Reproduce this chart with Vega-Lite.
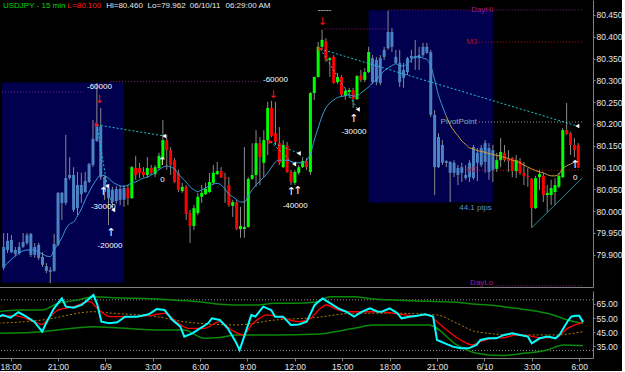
{
"$schema":"https://vega.github.io/schema/vega-lite/v6.json",
"background":"#000000",
"padding":{"left":-4,"top":0,"right":0,"bottom":0},
"spacing":4,
"config":{"view":{"stroke":null},"font":"Liberation Sans","axis":{"labelColor":"#e6e6e6","labelFont":"Liberation Sans","labelFontSize":8.5,"domainColor":"#808080","tickColor":"#808080","grid":false,"labelFlush":false,"labelOverlap":false}},
"datasets":{
"bars":[
{"t":"2011-06-08T17:15","o":79.870,"h":79.950,"l":79.865,"c":79.918,"ma":79.873},
{"t":"2011-06-08T17:30","o":79.911,"h":79.950,"l":79.904,"c":79.932,"ma":79.881},
{"t":"2011-06-08T17:45","o":79.934,"h":79.945,"l":79.904,"c":79.906,"ma":79.890},
{"t":"2011-06-08T18:00","o":79.902,"h":79.918,"l":79.897,"c":79.911,"ma":79.897},
{"t":"2011-06-08T18:15","o":79.904,"h":79.929,"l":79.900,"c":79.918,"ma":79.904},
{"t":"2011-06-08T18:30","o":79.918,"h":79.950,"l":79.916,"c":79.929,"ma":79.909},
{"t":"2011-06-08T18:45","o":79.927,"h":79.950,"l":79.923,"c":79.945,"ma":79.911},
{"t":"2011-06-08T19:00","o":79.948,"h":79.950,"l":79.895,"c":79.900,"ma":79.911},
{"t":"2011-06-08T19:15","o":79.900,"h":79.927,"l":79.893,"c":79.918,"ma":79.911},
{"t":"2011-06-08T19:30","o":79.923,"h":79.927,"l":79.888,"c":79.893,"ma":79.906},
{"t":"2011-06-08T19:45","o":79.895,"h":79.906,"l":79.872,"c":79.877,"ma":79.902},
{"t":"2011-06-08T20:00","o":79.874,"h":79.881,"l":79.858,"c":79.863,"ma":79.897},
{"t":"2011-06-08T20:15","o":79.861,"h":79.872,"l":79.835,"c":79.865,"ma":79.896},
{"t":"2011-06-08T20:30","o":79.863,"h":79.948,"l":79.861,"c":79.925,"ma":79.911},
{"t":"2011-06-08T20:45","o":79.923,"h":80.044,"l":79.920,"c":80.042,"ma":79.925},
{"t":"2011-06-08T21:00","o":80.042,"h":80.044,"l":79.980,"c":80.019,"ma":79.939},
{"t":"2011-06-08T21:15","o":80.019,"h":80.175,"l":80.014,"c":80.076,"ma":79.959},
{"t":"2011-06-08T21:30","o":80.076,"h":80.124,"l":80.072,"c":80.083,"ma":79.971},
{"t":"2011-06-08T21:45","o":80.083,"h":80.101,"l":79.998,"c":80.003,"ma":79.975},
{"t":"2011-06-08T22:00","o":80.007,"h":80.090,"l":79.991,"c":80.060,"ma":79.989},
{"t":"2011-06-08T22:15","o":80.060,"h":80.088,"l":80.019,"c":80.039,"ma":80.005},
{"t":"2011-06-08T22:30","o":80.044,"h":80.090,"l":80.042,"c":80.069,"ma":80.026},
{"t":"2011-06-08T22:45","o":80.067,"h":80.111,"l":80.065,"c":80.108,"ma":80.044},
{"t":"2011-06-08T23:00","o":80.106,"h":80.209,"l":80.101,"c":80.166,"ma":80.060},
{"t":"2011-06-08T23:15","o":80.161,"h":80.294,"l":80.159,"c":80.193,"ma":80.074},
{"t":"2011-06-08T23:30","o":80.195,"h":80.237,"l":80.072,"c":80.078,"ma":80.083},
{"t":"2011-06-08T23:45","o":80.078,"h":80.083,"l":80.026,"c":80.044,"ma":80.081},
{"t":"2011-06-09T00:00","o":80.030,"h":80.060,"l":79.968,"c":80.053,"ma":80.076},
{"t":"2011-06-09T00:15","o":80.049,"h":80.056,"l":80.014,"c":80.021,"ma":80.067},
{"t":"2011-06-09T00:30","o":80.023,"h":80.058,"l":80.017,"c":80.051,"ma":80.062},
{"t":"2011-06-09T00:45","o":80.051,"h":80.058,"l":80.014,"c":80.026,"ma":80.058},
{"t":"2011-06-09T01:00","o":80.026,"h":80.060,"l":80.010,"c":80.053,"ma":80.057},
{"t":"2011-06-09T01:15","o":80.053,"h":80.060,"l":80.014,"c":80.030,"ma":80.060},
{"t":"2011-06-09T01:30","o":80.030,"h":80.104,"l":80.028,"c":80.101,"ma":80.065},
{"t":"2011-06-09T01:45","o":80.099,"h":80.127,"l":80.072,"c":80.083,"ma":80.067},
{"t":"2011-06-09T02:00","o":80.099,"h":80.111,"l":80.076,"c":80.088,"ma":80.072},
{"t":"2011-06-09T02:15","o":80.090,"h":80.101,"l":80.078,"c":80.083,"ma":80.076},
{"t":"2011-06-09T02:30","o":80.083,"h":80.124,"l":80.076,"c":80.099,"ma":80.078},
{"t":"2011-06-09T02:45","o":80.099,"h":80.106,"l":80.083,"c":80.088,"ma":80.083},
{"t":"2011-06-09T03:00","o":80.085,"h":80.106,"l":80.078,"c":80.101,"ma":80.088},
{"t":"2011-06-09T03:15","o":80.099,"h":80.134,"l":80.095,"c":80.127,"ma":80.095},
{"t":"2011-06-09T03:30","o":80.122,"h":80.209,"l":80.117,"c":80.163,"ma":80.101},
{"t":"2011-06-09T03:45","o":80.163,"h":80.175,"l":80.095,"c":80.140,"ma":80.104},
{"t":"2011-06-09T04:00","o":80.140,"h":80.147,"l":80.083,"c":80.106,"ma":80.101},
{"t":"2011-06-09T04:15","o":80.117,"h":80.122,"l":80.065,"c":80.067,"ma":80.097},
{"t":"2011-06-09T04:30","o":80.088,"h":80.095,"l":80.044,"c":80.049,"ma":80.085},
{"t":"2011-06-09T04:45","o":80.046,"h":80.065,"l":80.042,"c":80.056,"ma":80.076},
{"t":"2011-06-09T05:00","o":80.056,"h":80.060,"l":79.980,"c":79.994,"ma":80.067},
{"t":"2011-06-09T05:15","o":79.996,"h":80.003,"l":79.927,"c":79.966,"ma":80.056},
{"t":"2011-06-09T05:30","o":79.966,"h":80.014,"l":79.957,"c":80.007,"ma":80.049},
{"t":"2011-06-09T05:45","o":79.996,"h":80.042,"l":79.991,"c":80.033,"ma":80.045},
{"t":"2011-06-09T06:00","o":80.033,"h":80.060,"l":80.019,"c":80.042,"ma":80.049},
{"t":"2011-06-09T06:15","o":80.039,"h":80.065,"l":80.037,"c":80.051,"ma":80.053},
{"t":"2011-06-09T06:30","o":80.044,"h":80.088,"l":80.042,"c":80.067,"ma":80.058},
{"t":"2011-06-09T06:45","o":80.065,"h":80.106,"l":80.062,"c":80.088,"ma":80.062},
{"t":"2011-06-09T07:00","o":80.085,"h":80.113,"l":80.083,"c":80.092,"ma":80.064},
{"t":"2011-06-09T07:15","o":80.092,"h":80.101,"l":80.076,"c":80.078,"ma":80.060},
{"t":"2011-06-09T07:30","o":80.078,"h":80.088,"l":80.019,"c":80.075,"ma":80.051},
{"t":"2011-06-09T07:45","o":80.060,"h":80.078,"l":80.010,"c":80.014,"ma":80.039},
{"t":"2011-06-09T08:00","o":80.012,"h":80.026,"l":79.987,"c":80.021,"ma":80.033},
{"t":"2011-06-09T08:15","o":80.021,"h":80.026,"l":79.957,"c":79.959,"ma":80.027},
{"t":"2011-06-09T08:30","o":79.959,"h":80.010,"l":79.939,"c":79.966,"ma":80.021},
{"t":"2011-06-09T08:45","o":79.959,"h":80.147,"l":79.939,"c":79.964,"ma":80.021},
{"t":"2011-06-09T09:00","o":79.964,"h":80.078,"l":79.962,"c":80.074,"ma":80.035},
{"t":"2011-06-09T09:15","o":80.074,"h":80.156,"l":80.072,"c":80.083,"ma":80.049},
{"t":"2011-06-09T09:30","o":80.083,"h":80.186,"l":80.056,"c":80.156,"ma":80.060},
{"t":"2011-06-09T09:45","o":80.156,"h":80.170,"l":80.060,"c":80.124,"ma":80.069},
{"t":"2011-06-09T10:00","o":80.111,"h":80.186,"l":80.078,"c":80.163,"ma":80.078},
{"t":"2011-06-09T10:15","o":80.163,"h":80.251,"l":80.129,"c":80.237,"ma":80.088},
{"t":"2011-06-09T10:30","o":80.237,"h":80.253,"l":80.170,"c":80.173,"ma":80.101},
{"t":"2011-06-09T10:45","o":80.179,"h":80.251,"l":80.152,"c":80.159,"ma":80.113},
{"t":"2011-06-09T11:00","o":80.156,"h":80.193,"l":80.106,"c":80.111,"ma":80.117},
{"t":"2011-06-09T11:15","o":80.101,"h":80.163,"l":80.099,"c":80.152,"ma":80.117},
{"t":"2011-06-09T11:30","o":80.150,"h":80.159,"l":80.088,"c":80.090,"ma":80.117},
{"t":"2011-06-09T11:45","o":80.090,"h":80.095,"l":80.060,"c":80.067,"ma":80.114},
{"t":"2011-06-09T12:00","o":80.065,"h":80.095,"l":80.060,"c":80.090,"ma":80.111},
{"t":"2011-06-09T12:15","o":80.088,"h":80.106,"l":80.083,"c":80.101,"ma":80.111},
{"t":"2011-06-09T12:30","o":80.101,"h":80.124,"l":80.099,"c":80.115,"ma":80.111},
{"t":"2011-06-09T12:45","o":80.115,"h":80.122,"l":80.095,"c":80.101,"ma":80.117},
{"t":"2011-06-09T13:00","o":80.090,"h":80.273,"l":80.083,"c":80.271,"ma":80.131},
{"t":"2011-06-09T13:15","o":80.271,"h":80.308,"l":80.255,"c":80.308,"ma":80.163},
{"t":"2011-06-09T13:30","o":80.308,"h":80.388,"l":80.306,"c":80.377,"ma":80.191},
{"t":"2011-06-09T13:45","o":80.377,"h":80.416,"l":80.370,"c":80.393,"ma":80.218},
{"t":"2011-06-09T14:00","o":80.390,"h":80.397,"l":80.342,"c":80.347,"ma":80.237},
{"t":"2011-06-09T14:15","o":80.347,"h":80.354,"l":80.308,"c":80.351,"ma":80.248},
{"t":"2011-06-09T14:30","o":80.354,"h":80.358,"l":80.292,"c":80.294,"ma":80.255},
{"t":"2011-06-09T14:45","o":80.296,"h":80.317,"l":80.292,"c":80.308,"ma":80.261},
{"t":"2011-06-09T15:00","o":80.308,"h":80.312,"l":80.262,"c":80.267,"ma":80.263},
{"t":"2011-06-09T15:15","o":80.264,"h":80.283,"l":80.255,"c":80.276,"ma":80.265},
{"t":"2011-06-09T15:30","o":80.273,"h":80.283,"l":80.260,"c":80.278,"ma":80.267},
{"t":"2011-06-09T15:45","o":80.278,"h":80.283,"l":80.237,"c":80.257,"ma":80.264},
{"t":"2011-06-09T16:00","o":80.257,"h":80.312,"l":80.255,"c":80.310,"ma":80.264},
{"t":"2011-06-09T16:15","o":80.312,"h":80.324,"l":80.296,"c":80.301,"ma":80.271},
{"t":"2011-06-09T16:30","o":80.301,"h":80.328,"l":80.296,"c":80.319,"ma":80.278},
{"t":"2011-06-09T16:45","o":80.319,"h":80.377,"l":80.317,"c":80.365,"ma":80.285},
{"t":"2011-06-09T17:00","o":80.351,"h":80.358,"l":80.292,"c":80.296,"ma":80.294},
{"t":"2011-06-09T17:15","o":80.296,"h":80.354,"l":80.289,"c":80.347,"ma":80.303},
{"t":"2011-06-09T17:30","o":80.294,"h":80.358,"l":80.289,"c":80.351,"ma":80.312},
{"t":"2011-06-09T17:45","o":80.354,"h":80.377,"l":80.347,"c":80.370,"ma":80.322},
{"t":"2011-06-09T18:00","o":80.374,"h":80.460,"l":80.370,"c":80.411,"ma":80.328},
{"t":"2011-06-09T18:15","o":80.411,"h":80.420,"l":80.365,"c":80.377,"ma":80.334},
{"t":"2011-06-09T18:30","o":80.354,"h":80.370,"l":80.338,"c":80.340,"ma":80.338},
{"t":"2011-06-09T18:45","o":80.340,"h":80.370,"l":80.285,"c":80.296,"ma":80.333},
{"t":"2011-06-09T19:00","o":80.306,"h":80.340,"l":80.283,"c":80.324,"ma":80.333},
{"t":"2011-06-09T19:15","o":80.319,"h":80.354,"l":80.312,"c":80.351,"ma":80.339},
{"t":"2011-06-09T19:30","o":80.351,"h":80.370,"l":80.340,"c":80.356,"ma":80.347},
{"t":"2011-06-09T19:45","o":80.356,"h":80.393,"l":80.324,"c":80.351,"ma":80.354},
{"t":"2011-06-09T20:00","o":80.351,"h":80.377,"l":80.324,"c":80.358,"ma":80.354},
{"t":"2011-06-09T20:15","o":80.358,"h":80.386,"l":80.354,"c":80.377,"ma":80.351},
{"t":"2011-06-09T20:30","o":80.377,"h":80.386,"l":80.361,"c":80.363,"ma":80.348},
{"t":"2011-06-09T20:45","o":80.365,"h":80.370,"l":80.216,"c":80.221,"ma":80.333},
{"t":"2011-06-09T21:00","o":80.221,"h":80.232,"l":80.037,"c":80.101,"ma":80.301},
{"t":"2011-06-09T21:15","o":80.101,"h":80.179,"l":80.099,"c":80.170,"ma":80.266},
{"t":"2011-06-09T21:30","o":80.152,"h":80.163,"l":80.106,"c":80.111,"ma":80.241},
{"t":"2011-06-09T21:45","o":80.111,"h":80.117,"l":80.101,"c":80.115,"ma":80.218},
{"t":"2011-06-09T22:00","o":80.113,"h":80.115,"l":80.021,"c":80.088,"ma":80.198},
{"t":"2011-06-09T22:15","o":80.088,"h":80.117,"l":80.078,"c":80.111,"ma":80.184},
{"t":"2011-06-09T22:30","o":80.099,"h":80.106,"l":80.060,"c":80.083,"ma":80.173},
{"t":"2011-06-09T22:45","o":80.088,"h":80.111,"l":80.067,"c":80.101,"ma":80.161},
{"t":"2011-06-09T23:00","o":80.083,"h":80.106,"l":80.072,"c":80.076,"ma":80.153},
{"t":"2011-06-09T23:15","o":80.078,"h":80.117,"l":80.067,"c":80.111,"ma":80.145},
{"t":"2011-06-09T23:30","o":80.076,"h":80.152,"l":80.072,"c":80.147,"ma":80.143},
{"t":"2011-06-09T23:45","o":80.134,"h":80.145,"l":80.069,"c":80.111,"ma":80.139},
{"t":"2011-06-10T00:00","o":80.106,"h":80.152,"l":80.101,"c":80.145,"ma":80.137},
{"t":"2011-06-10T00:15","o":80.156,"h":80.163,"l":80.088,"c":80.113,"ma":80.135},
{"t":"2011-06-10T00:30","o":80.145,"h":80.156,"l":80.072,"c":80.090,"ma":80.132},
{"t":"2011-06-10T00:45","o":80.140,"h":80.152,"l":80.067,"c":80.095,"ma":80.130},
{"t":"2011-06-10T01:00","o":80.097,"h":80.134,"l":80.090,"c":80.117,"ma":80.128},
{"t":"2011-06-10T01:15","o":80.117,"h":80.168,"l":80.101,"c":80.136,"ma":80.126},
{"t":"2011-06-10T01:30","o":80.134,"h":80.152,"l":80.113,"c":80.117,"ma":80.123},
{"t":"2011-06-10T01:45","o":80.120,"h":80.140,"l":80.090,"c":80.115,"ma":80.121},
{"t":"2011-06-10T02:00","o":80.122,"h":80.124,"l":80.078,"c":80.092,"ma":80.117},
{"t":"2011-06-10T02:15","o":80.092,"h":80.129,"l":80.076,"c":80.117,"ma":80.115},
{"t":"2011-06-10T02:30","o":80.115,"h":80.122,"l":80.083,"c":80.088,"ma":80.111},
{"t":"2011-06-10T02:45","o":80.088,"h":80.113,"l":80.060,"c":80.081,"ma":80.106},
{"t":"2011-06-10T03:00","o":80.081,"h":80.099,"l":80.056,"c":80.078,"ma":80.101},
{"t":"2011-06-10T03:15","o":80.074,"h":80.076,"l":79.962,"c":80.007,"ma":80.097},
{"t":"2011-06-10T03:30","o":80.007,"h":80.081,"l":80.005,"c":80.076,"ma":80.093},
{"t":"2011-06-10T03:45","o":80.078,"h":80.095,"l":80.049,"c":80.085,"ma":80.090},
{"t":"2011-06-10T04:00","o":80.081,"h":80.088,"l":80.021,"c":80.037,"ma":80.088},
{"t":"2011-06-10T04:15","o":80.037,"h":80.060,"l":79.998,"c":80.042,"ma":80.084},
{"t":"2011-06-10T04:30","o":80.037,"h":80.072,"l":80.014,"c":80.053,"ma":80.081},
{"t":"2011-06-10T04:45","o":80.044,"h":80.076,"l":80.014,"c":80.060,"ma":80.081},
{"t":"2011-06-10T05:00","o":80.056,"h":80.088,"l":80.053,"c":80.081,"ma":80.085},
{"t":"2011-06-10T05:15","o":80.078,"h":80.191,"l":80.076,"c":80.186,"ma":80.097},
{"t":"2011-06-10T05:30","o":80.186,"h":80.248,"l":80.175,"c":80.177,"ma":80.104},
{"t":"2011-06-10T05:45","o":80.179,"h":80.182,"l":80.129,"c":80.152,"ma":80.108},
{"t":"2011-06-10T06:00","o":80.152,"h":80.168,"l":80.124,"c":80.140,"ma":80.112},
{"t":"2011-06-10T06:15","o":80.152,"h":80.156,"l":80.099,"c":80.100,"ma":80.114}
],
"boxes":[
{"t1":"2011-06-08T17:08:30","t2":"2011-06-09T01:00","lo":79.836,"hi":80.295},
{"t1":"2011-06-09T16:45","t2":"2011-06-10T00:45","lo":80.020,"hi":80.461}
],
"levels":[
{"t1":"2011-06-08T17:09","t2":"2011-06-08T22:24","p":80.2734,"kind":"pos"},
{"t1":"2011-06-09T00:06","t2":"2011-06-09T09:48","p":80.2973,"kind":"pos"},
{"t1":"2011-06-09T13:54","t2":"2011-06-09T17:50","p":80.418,"kind":"pos"},
{"t1":"2011-06-09T18:01","t2":"2011-06-09T23:17","p":80.4615,"kind":"dayhl"},
{"t1":"2011-06-10T00:48","t2":"2011-06-10T06:30","p":80.4615,"kind":"dayhl"},
{"t1":"2011-06-09T23:51","t2":"2011-06-10T06:30","p":80.388,"kind":"mlvl"},
{"t1":"2011-06-09T23:51","t2":"2011-06-10T06:30","p":80.2045,"kind":"pivot"},
{"t1":"2011-06-09T23:51","t2":"2011-06-10T06:30","p":80.094,"kind":"mlvl"},
{"t1":"2011-06-10T00:48","t2":"2011-06-10T06:30","p":79.829,"kind":"dayhl"}
],
"trades":[
{"t1":"2011-06-08T23:15","p1":80.198,"t2":"2011-06-09T03:35","p2":80.1725},
{"t1":"2011-06-08T23:15","p1":80.198,"t2":"2011-06-08T23:55","p2":80.0578},
{"t1":"2011-06-08T23:55","p1":80.0578,"t2":"2011-06-09T00:18","p2":80.0027},
{"t1":"2011-06-09T10:26","p1":80.159,"t2":"2011-06-09T12:15","p2":80.1328},
{"t1":"2011-06-09T10:26","p1":80.159,"t2":"2011-06-09T11:57","p2":80.108},
{"t1":"2011-06-09T13:39","p1":80.372,"t2":"2011-06-10T06:11","p2":80.1954},
{"t1":"2011-06-09T13:39","p1":80.372,"t2":"2011-06-09T16:03","p2":80.2337}
],
"trend":[
{"t1":"2011-06-10T03:15","p1":79.962,"t2":"2011-06-10T06:30","p2":80.076}
],
"notes":[
{"t":"2011-06-08T17:12","p":80.4706,"text":"USDJPY - 15 min","kind":"sym"},
{"t":"2011-06-08T21:22","p":80.4706,"text":"L=80.100","kind":"last"},
{"t":"2011-06-08T23:51","p":80.4706,"text":"Hi=80.460","kind":"info"},
{"t":"2011-06-09T02:31","p":80.4706,"text":"Lo=79.962","kind":"info"},
{"t":"2011-06-09T05:14","p":80.4706,"text":"06/10/11","kind":"info"},
{"t":"2011-06-09T07:32","p":80.4706,"text":"06:29:00 AM","kind":"info"},
{"t":"2011-06-09T23:21","p":80.4615,"text":"DayHi","kind":"dayhl"},
{"t":"2011-06-09T23:02","p":80.388,"text":"M3","kind":"mlvl"},
{"t":"2011-06-09T21:23","p":80.2045,"text":"PivotPoint","kind":"pivot"},
{"t":"2011-06-09T23:02","p":80.094,"text":"M2","kind":"mlvl"},
{"t":"2011-06-09T23:17","p":79.836,"text":"DayLo","kind":"dayhl"},
{"t":"2011-06-09T22:35","p":80.0073,"text":"44.1 pips","kind":"pips"}
],
"pl":[
{"t":"2011-06-08T23:25","p":80.285,"text":"-60000"},
{"t":"2011-06-08T23:40","p":80.010,"text":"-30000"},
{"t":"2011-06-09T00:06","p":79.919,"text":"-20000"},
{"t":"2011-06-09T03:28","p":80.072,"text":"0"},
{"t":"2011-06-09T10:45","p":80.301,"text":"-60000"},
{"t":"2011-06-09T12:01","p":80.013,"text":"-40000"},
{"t":"2011-06-09T15:48","p":80.182,"text":"-30000"},
{"t":"2011-06-09T13:54","p":80.4615,"text":"-----"},
{"t":"2011-06-10T06:03","p":80.076,"text":"0"}
],
"marks":[
{"t":"2011-06-08T23:40","p":80.043,"kind":"up"},
{"t":"2011-06-09T00:10","p":79.949,"kind":"up"},
{"t":"2011-06-09T03:28","p":80.113,"kind":"up"},
{"t":"2011-06-09T11:46","p":80.044,"kind":"up"},
{"t":"2011-06-09T12:12","p":80.047,"kind":"up"},
{"t":"2011-06-09T15:48","p":80.2115,"kind":"up"},
{"t":"2011-06-10T06:03","p":80.106,"kind":"up"},
{"t":"2011-06-08T23:25","p":80.255,"kind":"down"},
{"t":"2011-06-09T10:37","p":80.2665,"kind":"down"},
{"t":"2011-06-09T13:47","p":80.434,"kind":"down"},
{"t":"2011-06-09T03:35","p":80.1725,"kind":"exit"},
{"t":"2011-06-08T23:55","p":80.0578,"kind":"exit"},
{"t":"2011-06-09T00:18","p":80.0027,"kind":"exit"},
{"t":"2011-06-09T12:15","p":80.1328,"kind":"exit"},
{"t":"2011-06-09T11:57","p":80.108,"kind":"exit"},
{"t":"2011-06-09T16:03","p":80.2337,"kind":"exit"},
{"t":"2011-06-10T06:11","p":80.1954,"kind":"exit"},
{"t":"2011-06-08T23:15","p":80.198,"kind":"entry"},
{"t":"2011-06-09T10:26","p":80.159,"kind":"entry"},
{"t":"2011-06-09T13:39","p":80.372,"kind":"entry"}
],
"lastprice":[{"p":80.100}],
"lastosc":[{"v":52.12}],
"osclevels":[{"v":68},{"v":32}],
"osc":[
{"s":"rsi","t":"2011-06-08T17:15","v":56.0},{"s":"rsi","t":"2011-06-08T17:30","v":57.2},{"s":"rsi","t":"2011-06-08T18:00","v":55.3},{"s":"rsi","t":"2011-06-08T18:30","v":59.1},{"s":"rsi","t":"2011-06-08T19:00","v":56.0},{"s":"rsi","t":"2011-06-08T19:30","v":52.4},{"s":"rsi","t":"2011-06-08T20:00","v":45.3},{"s":"rsi","t":"2011-06-08T20:15","v":51.3},{"s":"rsi","t":"2011-06-08T20:45","v":61.9},{"s":"rsi","t":"2011-06-08T21:15","v":69.0},{"s":"rsi","t":"2011-06-08T21:30","v":63.1},{"s":"rsi","t":"2011-06-08T22:00","v":62.4},{"s":"rsi","t":"2011-06-08T22:30","v":64.3},{"s":"rsi","t":"2011-06-08T23:00","v":69.0},{"s":"rsi","t":"2011-06-08T23:15","v":71.4},{"s":"rsi","t":"2011-06-08T23:30","v":64.3},{"s":"rsi","t":"2011-06-08T23:45","v":52.4},{"s":"rsi","t":"2011-06-09T00:15","v":51.3},{"s":"rsi","t":"2011-06-09T00:45","v":52.0},{"s":"rsi","t":"2011-06-09T01:15","v":56.0},{"s":"rsi","t":"2011-06-09T02:00","v":56.0},{"s":"rsi","t":"2011-06-09T02:45","v":57.7},{"s":"rsi","t":"2011-06-09T03:15","v":61.4},{"s":"rsi","t":"2011-06-09T03:45","v":60.7},{"s":"rsi","t":"2011-06-09T04:15","v":53.6},{"s":"rsi","t":"2011-06-09T04:45","v":48.9},{"s":"rsi","t":"2011-06-09T05:00","v":41.8},{"s":"rsi","t":"2011-06-09T05:30","v":44.1},{"s":"rsi","t":"2011-06-09T06:00","v":47.7},{"s":"rsi","t":"2011-06-09T06:30","v":51.3},{"s":"rsi","t":"2011-06-09T06:45","v":54.8},{"s":"rsi","t":"2011-06-09T07:15","v":53.6},{"s":"rsi","t":"2011-06-09T07:45","v":47.7},{"s":"rsi","t":"2011-06-09T08:15","v":38.2},{"s":"rsi","t":"2011-06-09T08:30","v":32.3},{"s":"rsi","t":"2011-06-09T08:45","v":40.6},{"s":"rsi","t":"2011-06-09T09:15","v":57.2},{"s":"rsi","t":"2011-06-09T09:30","v":56.0},{"s":"rsi","t":"2011-06-09T10:00","v":63.1},{"s":"rsi","t":"2011-06-09T10:30","v":60.7},{"s":"rsi","t":"2011-06-09T10:45","v":56.0},{"s":"rsi","t":"2011-06-09T11:15","v":56.0},{"s":"rsi","t":"2011-06-09T11:45","v":50.1},{"s":"rsi","t":"2011-06-09T12:15","v":50.5},{"s":"rsi","t":"2011-06-09T12:45","v":52.4},{"s":"rsi","t":"2011-06-09T13:15","v":64.3},{"s":"rsi","t":"2011-06-09T13:45","v":69.0},{"s":"rsi","t":"2011-06-09T14:15","v":65.5},{"s":"rsi","t":"2011-06-09T14:45","v":61.9},{"s":"rsi","t":"2011-06-09T15:15","v":59.5},{"s":"rsi","t":"2011-06-09T15:45","v":56.0},{"s":"rsi","t":"2011-06-09T16:15","v":59.5},{"s":"rsi","t":"2011-06-09T16:45","v":61.9},{"s":"rsi","t":"2011-06-09T17:15","v":59.5},{"s":"rsi","t":"2011-06-09T17:30","v":59.5},{"s":"rsi","t":"2011-06-09T18:00","v":61.9},{"s":"rsi","t":"2011-06-09T18:30","v":58.4},{"s":"rsi","t":"2011-06-09T18:45","v":54.8},{"s":"rsi","t":"2011-06-09T19:15","v":56.0},{"s":"rsi","t":"2011-06-09T19:45","v":56.7},{"s":"rsi","t":"2011-06-09T20:15","v":57.7},{"s":"rsi","t":"2011-06-09T20:45","v":56.0},{"s":"rsi","t":"2011-06-09T21:00","v":39.4},{"s":"rsi","t":"2011-06-09T21:30","v":37.0},{"s":"rsi","t":"2011-06-09T22:00","v":34.7},{"s":"rsi","t":"2011-06-09T22:30","v":33.5},{"s":"rsi","t":"2011-06-09T23:00","v":33.5},{"s":"rsi","t":"2011-06-09T23:30","v":35.9},{"s":"rsi","t":"2011-06-09T23:45","v":39.4},{"s":"rsi","t":"2011-06-10T00:15","v":40.6},{"s":"rsi","t":"2011-06-10T00:45","v":40.6},{"s":"rsi","t":"2011-06-10T01:15","v":43.0},{"s":"rsi","t":"2011-06-10T01:45","v":44.1},{"s":"rsi","t":"2011-06-10T02:15","v":43.0},{"s":"rsi","t":"2011-06-10T02:45","v":41.8},{"s":"rsi","t":"2011-06-10T03:00","v":37.0},{"s":"rsi","t":"2011-06-10T03:30","v":40.6},{"s":"rsi","t":"2011-06-10T04:00","v":41.8},{"s":"rsi","t":"2011-06-10T04:30","v":40.6},{"s":"rsi","t":"2011-06-10T04:45","v":43.0},{"s":"rsi","t":"2011-06-10T05:15","v":52.4},{"s":"rsi","t":"2011-06-10T05:30","v":56.0},{"s":"rsi","t":"2011-06-10T05:45","v":56.7},{"s":"rsi","t":"2011-06-10T06:00","v":56.7},{"s":"rsi","t":"2011-06-10T06:15","v":52.12},
{"s":"sig","t":"2011-06-08T17:15","v":56.0},{"s":"sig","t":"2011-06-08T18:15","v":56.7},{"s":"sig","t":"2011-06-08T19:30","v":52.4},{"s":"sig","t":"2011-06-08T20:00","v":50.5},{"s":"sig","t":"2011-06-08T20:30","v":56.0},{"s":"sig","t":"2011-06-08T21:00","v":60.7},{"s":"sig","t":"2011-06-08T22:00","v":63.1},{"s":"sig","t":"2011-06-08T23:00","v":66.7},{"s":"sig","t":"2011-06-08T23:30","v":61.9},{"s":"sig","t":"2011-06-09T00:15","v":56.0},{"s":"sig","t":"2011-06-09T01:30","v":56.0},{"s":"sig","t":"2011-06-09T02:45","v":56.7},{"s":"sig","t":"2011-06-09T03:45","v":58.4},{"s":"sig","t":"2011-06-09T04:30","v":52.4},{"s":"sig","t":"2011-06-09T05:15","v":47.7},{"s":"sig","t":"2011-06-09T06:15","v":47.7},{"s":"sig","t":"2011-06-09T07:15","v":52.4},{"s":"sig","t":"2011-06-09T08:00","v":46.5},{"s":"sig","t":"2011-06-09T08:45","v":43.0},{"s":"sig","t":"2011-06-09T09:15","v":50.1},{"s":"sig","t":"2011-06-09T09:45","v":54.8},{"s":"sig","t":"2011-06-09T10:15","v":57.2},{"s":"sig","t":"2011-06-09T11:15","v":54.8},{"s":"sig","t":"2011-06-09T12:15","v":52.4},{"s":"sig","t":"2011-06-09T13:00","v":54.8},{"s":"sig","t":"2011-06-09T13:30","v":60.7},{"s":"sig","t":"2011-06-09T14:00","v":64.3},{"s":"sig","t":"2011-06-09T14:45","v":60.7},{"s":"sig","t":"2011-06-09T15:30","v":59.5},{"s":"sig","t":"2011-06-09T16:15","v":59.5},{"s":"sig","t":"2011-06-09T17:15","v":59.5},{"s":"sig","t":"2011-06-09T18:15","v":58.4},{"s":"sig","t":"2011-06-09T19:30","v":56.7},{"s":"sig","t":"2011-06-09T20:30","v":57.2},{"s":"sig","t":"2011-06-09T21:00","v":52.4},{"s":"sig","t":"2011-06-09T21:45","v":45.3},{"s":"sig","t":"2011-06-09T22:30","v":39.4},{"s":"sig","t":"2011-06-09T23:15","v":35.9},{"s":"sig","t":"2011-06-09T23:45","v":38.2},{"s":"sig","t":"2011-06-10T00:30","v":40.6},{"s":"sig","t":"2011-06-10T01:15","v":41.1},{"s":"sig","t":"2011-06-10T02:00","v":43.0},{"s":"sig","t":"2011-06-10T02:45","v":42.5},{"s":"sig","t":"2011-06-10T03:30","v":41.1},{"s":"sig","t":"2011-06-10T04:30","v":41.1},{"s":"sig","t":"2011-06-10T05:15","v":47.7},{"s":"sig","t":"2011-06-10T06:15","v":52.0},
{"s":"up","t":"2011-06-08T17:15","v":59.5},{"s":"up","t":"2011-06-08T18:30","v":60.7},{"s":"up","t":"2011-06-08T20:00","v":60.7},{"s":"up","t":"2011-06-08T21:00","v":65.5},{"s":"up","t":"2011-06-08T22:15","v":67.8},{"s":"up","t":"2011-06-08T23:15","v":70.2},{"s":"up","t":"2011-06-09T00:30","v":69.5},{"s":"up","t":"2011-06-09T02:00","v":69.0},{"s":"up","t":"2011-06-09T03:15","v":68.6},{"s":"up","t":"2011-06-09T04:15","v":67.8},{"s":"up","t":"2011-06-09T05:45","v":66.7},{"s":"up","t":"2011-06-09T07:15","v":64.8},{"s":"up","t":"2011-06-09T08:15","v":64.3},{"s":"up","t":"2011-06-09T09:30","v":64.3},{"s":"up","t":"2011-06-09T10:45","v":65.5},{"s":"up","t":"2011-06-09T12:00","v":65.5},{"s":"up","t":"2011-06-09T13:15","v":66.2},{"s":"up","t":"2011-06-09T14:15","v":70.2},{"s":"up","t":"2011-06-09T15:45","v":70.2},{"s":"up","t":"2011-06-09T17:00","v":68.6},{"s":"up","t":"2011-06-09T18:15","v":67.8},{"s":"up","t":"2011-06-09T19:45","v":67.1},{"s":"up","t":"2011-06-09T21:00","v":66.7},{"s":"up","t":"2011-06-09T22:15","v":66.2},{"s":"up","t":"2011-06-09T23:30","v":64.8},{"s":"up","t":"2011-06-10T00:45","v":63.8},{"s":"up","t":"2011-06-10T02:00","v":61.9},{"s":"up","t":"2011-06-10T03:15","v":60.0},{"s":"up","t":"2011-06-10T04:30","v":56.7},{"s":"up","t":"2011-06-10T05:15","v":53.6},{"s":"up","t":"2011-06-10T06:15","v":51.3},
{"s":"lo","t":"2011-06-08T17:15","v":44.1},{"s":"lo","t":"2011-06-08T20:00","v":45.3},{"s":"lo","t":"2011-06-08T23:15","v":48.9},{"s":"lo","t":"2011-06-09T03:15","v":46.5},{"s":"lo","t":"2011-06-09T05:00","v":46.5},{"s":"lo","t":"2011-06-09T06:15","v":40.6},{"s":"lo","t":"2011-06-09T07:15","v":41.1},{"s":"lo","t":"2011-06-09T08:15","v":43.0},{"s":"lo","t":"2011-06-09T10:45","v":43.0},{"s":"lo","t":"2011-06-09T13:15","v":43.4},{"s":"lo","t":"2011-06-09T15:45","v":47.7},{"s":"lo","t":"2011-06-09T17:00","v":50.1},{"s":"lo","t":"2011-06-09T20:30","v":50.1},{"s":"lo","t":"2011-06-09T22:15","v":35.9},{"s":"lo","t":"2011-06-09T23:30","v":29.9},{"s":"lo","t":"2011-06-10T01:00","v":28.3},{"s":"lo","t":"2011-06-10T02:30","v":29.9},{"s":"lo","t":"2011-06-10T04:00","v":32.3},{"s":"lo","t":"2011-06-10T05:00","v":35.9},{"s":"lo","t":"2011-06-10T06:15","v":35.4},
{"s":"mid","t":"2011-06-08T17:15","v":51.3},{"s":"mid","t":"2011-06-08T20:00","v":53.6},{"s":"mid","t":"2011-06-08T23:15","v":59.5},{"s":"mid","t":"2011-06-09T00:30","v":58.4},{"s":"mid","t":"2011-06-09T03:15","v":56.0},{"s":"mid","t":"2011-06-09T05:00","v":52.4},{"s":"mid","t":"2011-06-09T08:15","v":50.1},{"s":"mid","t":"2011-06-09T10:45","v":53.6},{"s":"mid","t":"2011-06-09T13:15","v":55.3},{"s":"mid","t":"2011-06-09T15:45","v":58.4},{"s":"mid","t":"2011-06-09T18:15","v":58.4},{"s":"mid","t":"2011-06-09T21:00","v":57.2},{"s":"mid","t":"2011-06-09T22:15","v":51.3},{"s":"mid","t":"2011-06-09T23:30","v":45.3},{"s":"mid","t":"2011-06-10T02:00","v":43.0},{"s":"mid","t":"2011-06-10T04:30","v":43.0},{"s":"mid","t":"2011-06-10T06:15","v":45.3}
]
},
"vconcat":[
{
"width":596,"height":287,
"resolve":{"scale":{"color":"independent"}},
"encoding":{
 "x":{"field":"t","type":"temporal","scale":{"domain":[{"year":2011,"month":6,"date":8,"hours":17,"minutes":8,"seconds":30},{"year":2011,"month":6,"date":10,"hours":6,"minutes":52,"seconds":30}]},"axis":{"labels":false,"ticks":false,"domain":true,"title":null}},
 "y":{"type":"quantitative","scale":{"domain":[79.8261,80.4844],"nice":false,"zero":false},"axis":{"orient":"right","values":[79.9,79.95,80,80.05,80.1,80.15,80.2,80.25,80.3,80.35,80.4,80.45],"format":".3f","tickSize":2,"labelPadding":1,"title":null}}
},
"layer":[
{"data":{"name":"boxes"},"mark":{"type":"rect","color":"#00004e","clip":true},"encoding":{"x":{"field":"t1","type":"temporal"},"x2":{"field":"t2"},"y":{"field":"lo","type":"quantitative"},"y2":{"field":"hi"}}},
{"data":{"name":"levels"},"mark":{"type":"rule","strokeDash":[1,2],"strokeWidth":1,"clip":true},"encoding":{"x":{"field":"t1","type":"temporal"},"x2":{"field":"t2"},"y":{"field":"p","type":"quantitative"},"color":{"field":"kind","type":"nominal","scale":{"domain":["pos","dayhl","mlvl","pivot"],"range":["#8a1a8a","#8a1a8a","#b01010","#9a9a9a"]},"legend":null}}},
{"data":{"name":"trend"},"mark":{"type":"rule","color":"#1f8f8f","strokeWidth":1,"clip":true},"encoding":{"x":{"field":"t1","type":"temporal"},"x2":{"field":"t2"},"y":{"field":"p1","type":"quantitative"},"y2":{"field":"p2"}}},
{"data":{"name":"bars"},"mark":{"type":"rule","color":"#8a8a8a","strokeWidth":1,"clip":true},"encoding":{"y":{"field":"l","type":"quantitative"},"y2":{"field":"h"}}},
{"data":{"name":"bars"},"mark":{"type":"bar","width":3,"clip":true},"encoding":{"y":{"field":"o","type":"quantitative"},"y2":{"field":"c"},"color":{"condition":[{"test":"time(datum.t) <= time(datetime(2011,5,9,1,0)) || (time(datum.t) >= time(datetime(2011,5,9,17,0)) && time(datum.t) <= time(datetime(2011,5,10,0,45)))","value":"#4a82c4"},{"test":"datum.c >= datum.o","value":"#00ff00"}],"value":"#ff0000"}}},
{"data":{"name":"bars"},"transform":[{"filter":"time(datum.t) <= time(datetime(2011,5,9,21,45))"}],"mark":{"type":"line","color":"#3a9ad8","strokeWidth":1,"interpolate":"monotone","clip":true},"encoding":{"y":{"field":"ma","type":"quantitative"}}},
{"data":{"name":"bars"},"transform":[{"filter":"time(datum.t) >= time(datetime(2011,5,9,21,45))"}],"mark":{"type":"line","color":"#d09a3a","strokeWidth":1,"interpolate":"monotone","clip":true},"encoding":{"y":{"field":"ma","type":"quantitative"}}},
{"data":{"name":"trades"},"mark":{"type":"rule","color":"#19c8d0","strokeDash":[2,2],"strokeWidth":1,"clip":true},"encoding":{"x":{"field":"t1","type":"temporal"},"x2":{"field":"t2"},"y":{"field":"p1","type":"quantitative"},"y2":{"field":"p2"}}},
{"data":{"name":"marks"},"transform":[{"filter":"datum.kind == 'exit'"}],"mark":{"type":"point","shape":"triangle-left","filled":true,"color":"#ffffff","size":22,"opacity":1,"clip":true},"encoding":{"y":{"field":"p","type":"quantitative"}}},
{"data":{"name":"marks"},"transform":[{"filter":"datum.kind == 'entry'"}],"mark":{"type":"point","shape":"triangle-right","filled":true,"color":"#ff1010","size":22,"opacity":1,"clip":true},"encoding":{"y":{"field":"p","type":"quantitative"}}},
{"data":{"name":"marks"},"transform":[{"filter":"datum.kind == 'up'"}],"mark":{"type":"text","text":"↑","font":"DejaVu Sans","fontSize":11,"color":"#ffffff","baseline":"middle","align":"center","clip":true},"encoding":{"y":{"field":"p","type":"quantitative"}}},
{"data":{"name":"marks"},"transform":[{"filter":"datum.kind == 'down'"}],"mark":{"type":"text","text":"↓","font":"DejaVu Sans","fontSize":11,"color":"#ff1010","baseline":"middle","align":"center","clip":true},"encoding":{"y":{"field":"p","type":"quantitative"}}},
{"data":{"name":"pl"},"mark":{"type":"text","fontSize":8,"color":"#ffffff","baseline":"middle","align":"center","clip":true},"encoding":{"y":{"field":"p","type":"quantitative"},"text":{"field":"text"}}},
{"data":{"name":"notes"},"mark":{"type":"text","fontSize":8,"baseline":"middle","align":"left","clip":true},"encoding":{"y":{"field":"p","type":"quantitative"},"text":{"field":"text"},"color":{"field":"kind","type":"nominal","scale":{"domain":["sym","last","info","dayhl","mlvl","pivot","pips"],"range":["#00d800","#ff2020","#e8e8e8","#a01ca0","#b01414","#a8a8a8","#5b8fd0"]},"legend":null}}},
{"data":{"name":"lastprice"},"mark":{"type":"point","shape":"M-1,-0.33L1,-0.33L1,0.33L-1,0.33Z","filled":true,"color":"#ff1a1a","size":800,"opacity":1},"encoding":{"x":{"datum":{"year":2011,"month":6,"date":10,"hours":8,"minutes":3},"type":"temporal"},"y":{"field":"p","type":"quantitative"}}},
{"data":{"name":"lastprice"},"mark":{"type":"text","fontSize":8.5,"color":"#000000","baseline":"middle","align":"center"},"encoding":{"x":{"datum":{"year":2011,"month":6,"date":10,"hours":8,"minutes":3},"type":"temporal"},"y":{"field":"p","type":"quantitative"},"text":{"field":"p","format":".3f"}}}
]
},
{
"width":596,"height":67,
"encoding":{
 "x":{"field":"t","type":"temporal","scale":{"domain":[{"year":2011,"month":6,"date":8,"hours":17,"minutes":8,"seconds":30},{"year":2011,"month":6,"date":10,"hours":6,"minutes":52,"seconds":30}]},"axis":{"values":[{"year":2011,"month":6,"date":8,"hours":18},{"year":2011,"month":6,"date":8,"hours":21},{"year":2011,"month":6,"date":9,"hours":0},{"year":2011,"month":6,"date":9,"hours":3},{"year":2011,"month":6,"date":9,"hours":6},{"year":2011,"month":6,"date":9,"hours":9},{"year":2011,"month":6,"date":9,"hours":12},{"year":2011,"month":6,"date":9,"hours":15},{"year":2011,"month":6,"date":9,"hours":18},{"year":2011,"month":6,"date":9,"hours":21},{"year":2011,"month":6,"date":10,"hours":0},{"year":2011,"month":6,"date":10,"hours":3},{"year":2011,"month":6,"date":10,"hours":6}],"labelExpr":"hours(datum.value) == 0 ? (month(datum.value) + 1) + '/' + date(datum.value) : hours(datum.value) + ':00'","tickSize":3,"labelPadding":1,"title":null}},
 "y":{"type":"quantitative","scale":{"domain":[26.6,74.24],"nice":false,"zero":false},"axis":{"orient":"right","values":[35,45,55,65],"format":".2f","tickSize":2,"labelPadding":1,"title":null}}
},
"layer":[
{"data":{"name":"osclevels"},"mark":{"type":"rule","color":"#8c8c8c","strokeDash":[1,2],"strokeWidth":1},"encoding":{"x":null,"y":{"field":"v","type":"quantitative"}}},
{"data":{"name":"osc"},"transform":[{"filter":"datum.s == 'mid'"}],"mark":{"type":"line","color":"#b08000","strokeDash":[2,2],"strokeWidth":1,"interpolate":"monotone","clip":true},"encoding":{"y":{"field":"v","type":"quantitative"}}},
{"data":{"name":"osc"},"transform":[{"filter":"datum.s == 'up'"}],"mark":{"type":"line","color":"#0a8a0a","strokeWidth":1.5,"interpolate":"monotone","clip":true},"encoding":{"y":{"field":"v","type":"quantitative"}}},
{"data":{"name":"osc"},"transform":[{"filter":"datum.s == 'lo'"}],"mark":{"type":"line","color":"#0a8a0a","strokeWidth":1.5,"interpolate":"monotone","clip":true},"encoding":{"y":{"field":"v","type":"quantitative"}}},
{"data":{"name":"osc"},"transform":[{"filter":"datum.s == 'sig'"}],"mark":{"type":"line","color":"#ff0000","strokeWidth":1.3,"interpolate":"monotone","clip":true},"encoding":{"y":{"field":"v","type":"quantitative"}}},
{"data":{"name":"osc"},"transform":[{"filter":"datum.s == 'rsi'"}],"mark":{"type":"line","color":"#00ffff","strokeWidth":2,"clip":true},"encoding":{"y":{"field":"v","type":"quantitative"}}},
{"data":{"name":"lastosc"},"mark":{"type":"point","shape":"M-1,-0.33L1,-0.33L1,0.33L-1,0.33Z","filled":true,"color":"#00ffff","size":800,"opacity":1},"encoding":{"x":{"datum":{"year":2011,"month":6,"date":10,"hours":8,"minutes":3},"type":"temporal"},"y":{"field":"v","type":"quantitative"}}},
{"data":{"name":"lastosc"},"mark":{"type":"text","fontSize":8.5,"color":"#000000","baseline":"middle","align":"center"},"encoding":{"x":{"datum":{"year":2011,"month":6,"date":10,"hours":8,"minutes":3},"type":"temporal"},"y":{"field":"v","type":"quantitative"},"text":{"field":"v","format":".2f"}}}
]
}
]
}
